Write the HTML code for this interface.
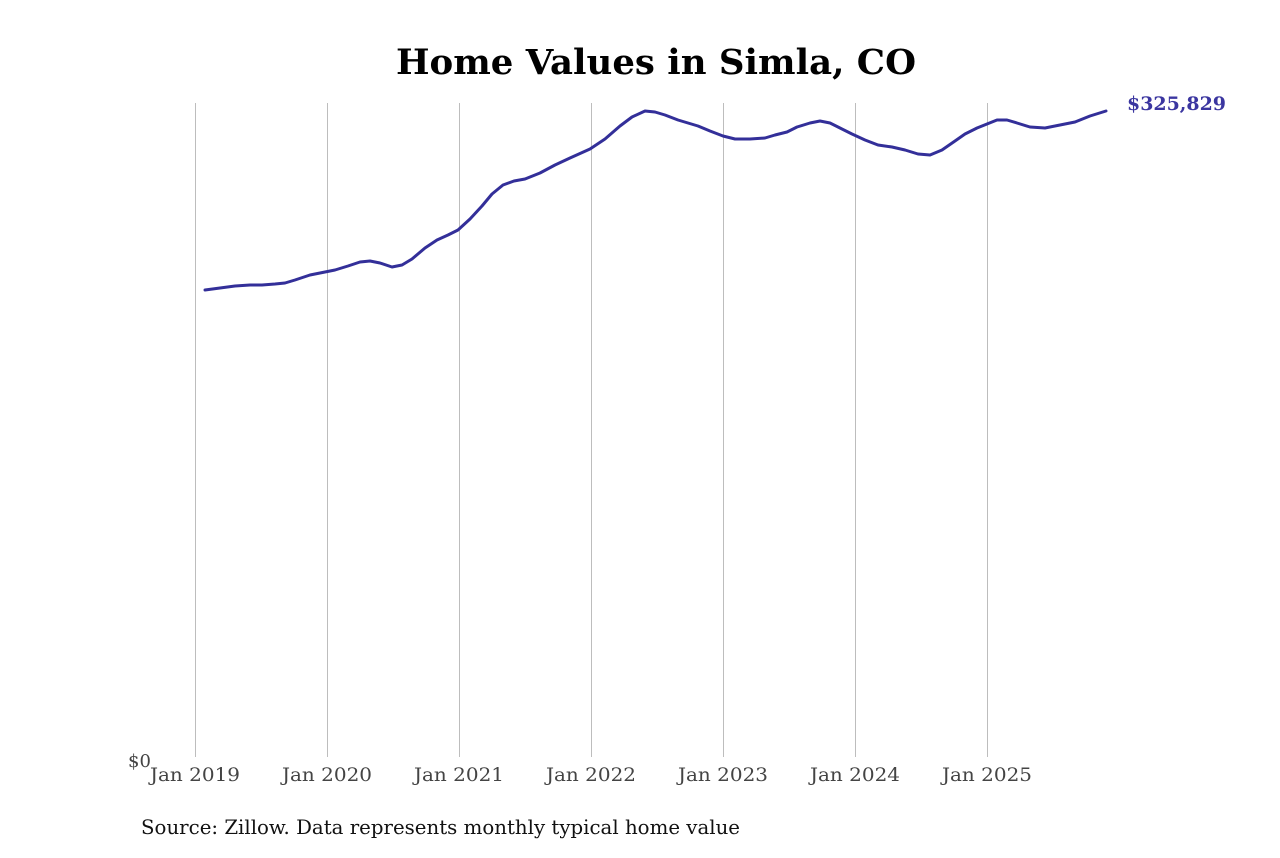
<!DOCTYPE html>
<html><head><style>body{margin:0;background:#fff}</style></head><body>
<svg width="1280" height="853" xmlns="http://www.w3.org/2000/svg" style="font-family:'DejaVu Serif','Liberation Serif',serif">
<rect width="1280" height="853" fill="#fff"/>
<text x="656" y="74" text-anchor="middle" font-size="35" font-weight="bold" fill="#000" textLength="520" lengthAdjust="spacingAndGlyphs">Home Values in Simla, CO</text>
<g stroke="#bdbdbd" stroke-width="1">
<line x1="195.5" y1="103" x2="195.5" y2="757"/>
<line x1="327.5" y1="103" x2="327.5" y2="757"/>
<line x1="459.5" y1="103" x2="459.5" y2="757"/>
<line x1="591.5" y1="103" x2="591.5" y2="757"/>
<line x1="723.5" y1="103" x2="723.5" y2="757"/>
<line x1="855.5" y1="103" x2="855.5" y2="757"/>
<line x1="987.5" y1="103" x2="987.5" y2="757"/>
</g>
<g font-size="19" fill="#444" text-anchor="middle">
<text x="195" y="781" textLength="90" lengthAdjust="spacingAndGlyphs">Jan 2019</text>
<text x="327" y="781" textLength="90" lengthAdjust="spacingAndGlyphs">Jan 2020</text>
<text x="459" y="781" textLength="90" lengthAdjust="spacingAndGlyphs">Jan 2021</text>
<text x="591" y="781" textLength="90" lengthAdjust="spacingAndGlyphs">Jan 2022</text>
<text x="723" y="781" textLength="90" lengthAdjust="spacingAndGlyphs">Jan 2023</text>
<text x="855" y="781" textLength="90" lengthAdjust="spacingAndGlyphs">Jan 2024</text>
<text x="987" y="781" textLength="90" lengthAdjust="spacingAndGlyphs">Jan 2025</text>
</g>
<text x="128" y="767" font-size="18" fill="#444">$0</text>
<polyline fill="none" stroke="#332f99" stroke-width="3" stroke-linejoin="round" stroke-linecap="round" points="205,290 220,288 235,286 250,285 262,285 275,284 285,283 295,280 310,275 325,272 335,270 348,266 360,262 370,261 380,263 392,267 402,265 412,259 425,248 437,240 448,235 458,230 470,219 482,206 492,194 503,185 514,181 525,179 540,173 555,165 570,158 590,149 605,139 620,126 632,117 645,111 655,112 665,115 678,120 698,126 710,131 723,136 735,139 750,139 765,138 775,135 787,132 797,127 810,123 820,121 830,123 840,128 852,134 865,140 878,145 892,147 905,150 918,154 930,155 942,150 955,141 965,134 977,128 987,124 997,120 1007,120 1017,123 1030,127 1045,128 1060,125 1075,122 1090,116 1106,111"/>
<text x="1127" y="110" font-size="19" font-weight="bold" fill="#3b36a0" textLength="99" lengthAdjust="spacingAndGlyphs">$325,829</text>
<text x="141" y="834" font-size="19.5" fill="#111" textLength="599" lengthAdjust="spacingAndGlyphs">Source: Zillow. Data represents monthly typical home value</text>
</svg>
</body></html>
